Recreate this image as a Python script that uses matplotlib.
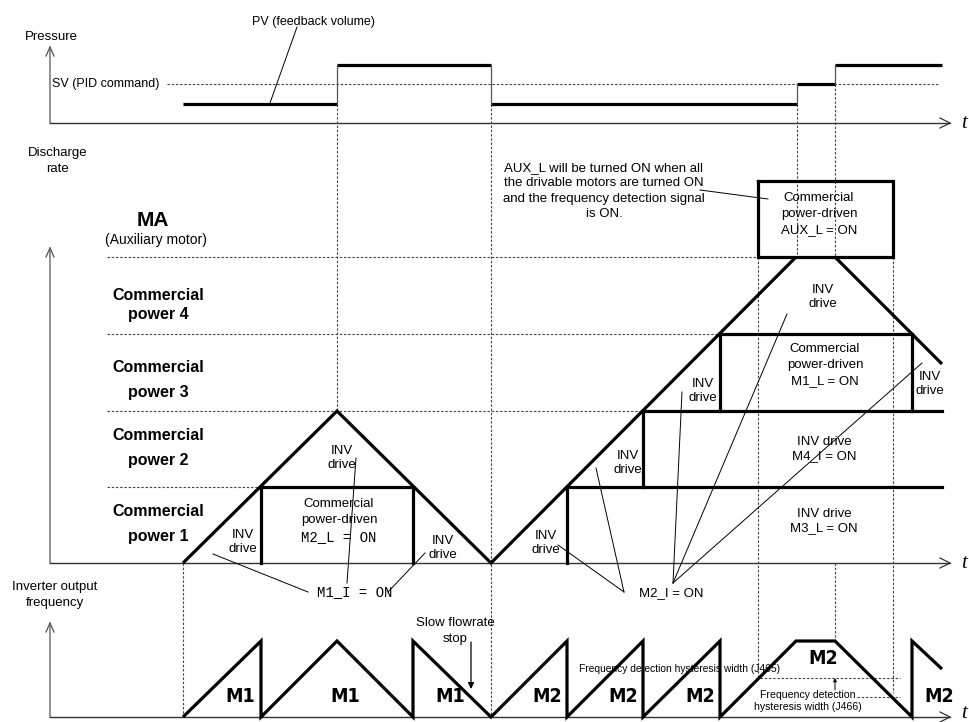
import matplotlib
matplotlib.use('Agg')
import matplotlib.pyplot as plt

plt.rcParams['font.family'] = ['Liberation Sans', 'DejaVu Sans']

# time marks along the x axis (pixel units of the diagram)
t_marks = [183, 261, 337, 413, 491, 567, 643, 720, 796, 835, 912, 942]
# discharge rate levels: 0 (axis) .. 4 (MA)
levels = [563, 487, 411, 334, 257]
# pressure levels
p_low, p_sv, p_high = 104, 84, 65
# inverter output frequency: bottom / top
f_bot, f_top = 717, 641

# PV (feedback) sequence: (start, end, level)
pv_steps = [(183, 337, p_low), (337, 491, p_high), (491, 797, p_low),
            (797, 835, p_sv), (835, 942, p_high)]

# discharge rate outline
discharge_left = [(183, 563), (337, 411), (491, 563), (796, 257)]
discharge_right = [(835, 257), (942, 364)]
# commercial-power steps: vertical (x, y0, y1) and horizontal (y, x0, x1)
step_vert = [(261, 563, 487), (413, 487, 563), (567, 563, 487),
             (643, 487, 411), (720, 411, 334), (912, 334, 411)]
step_horz = [(487, 261, 413), (487, 567, 942), (411, 643, 942), (334, 720, 912)]
aux_box = (758, 181, 893, 257)

# inverter output frequency wave
freq_wave = [(183, 717), (261, 641), (261, 717), (337, 641), (413, 717),
             (413, 641), (491, 717), (567, 641), (567, 717), (643, 641),
             (643, 717), (720, 641), (720, 717), (796, 641), (835, 641),
             (912, 717), (912, 641), (942, 669)]
freq_names = ['M1', 'M1', 'M1', 'M2', 'M2', 'M2', 'M2', 'M2']
freq_name_pos = [(240, 697), (345, 697), (450, 697), (547, 697), (623, 697),
                 (700, 697), (823, 659), (939, 697)]

# guide lines
v_dashed = [(337, 104, 411), (491, 104, 717), (797, 104, 257), (835, 84, 257),
            (835, 563, 641), (758, 257, 678), (893, 257, 693), (183, 563, 717)]
h_dashed = [(84, 167, 938), (257, 107, 758), (334, 107, 720), (411, 107, 643),
            (487, 107, 261), (678, 760, 900), (697, 857, 900)]

leaders = [((297, 27), (270, 103)), ((700, 190), (768, 199)),
           ((213, 554), (308, 592)), ((356, 458), (347, 583)),
           ((425, 553), (388, 592)), ((558, 545), (624, 592)),
           ((596, 468), (624, 592)), ((682, 392), (673, 583)),
           ((787, 314), (673, 583)), ((922, 363), (673, 583))]

inv_drive_pos = [(243, 542), (342, 458), (443, 548), (546, 543),
                 (628, 463), (703, 391), (823, 297), (930, 384)]

commercial_rows = [('Commercial', 296, 'power 4', 315),
                   ('Commercial', 368, 'power 3', 393),
                   ('Commercial', 435, 'power 2', 461),
                   ('Commercial', 512, 'power 1', 537)]

fig = plt.figure(figsize=(9.69, 7.22), dpi=100)
ax = fig.add_axes([0, 0, 1, 1])
ax.set_xlim(0, 969)
ax.set_ylim(722, 0)
ax.axis('off')

BOLD = 2.3
DASH = (0, (2.2, 1.6))

# axes with open arrowheads
for top, bottom in [(47, 123), (248, 563), (623, 717)]:
    ax.plot([50, 50], [top, bottom], color='#808080', lw=1.2)
    ax.plot([46, 50, 54], [top + 9, top, top + 9], color='#555555', lw=0.9)
    ax.plot([50, 950], [bottom, bottom], color='#333333', lw=1.0)
    ax.plot([940, 950, 940], [bottom - 5, bottom, bottom + 5], color='#333333', lw=0.9)
    ax.text(964, min(bottom, 713), 't', fontsize=15, family='Liberation Serif',
            style='italic', ha='center', va='center')

# dashed guides
for x, y0, y1 in v_dashed:
    ax.plot([x, x], [y0, y1], color='#444444', lw=0.8, ls=DASH)
for y, x0, x1 in h_dashed:
    ax.plot([x0, x1], [y, y], color='#444444', lw=0.8, ls=DASH)

# pressure PV
for i, (x0, x1, y) in enumerate(pv_steps):
    ax.plot([x0, x1], [y, y], color='black', lw=BOLD, solid_capstyle='butt')
    if i > 0:
        prev = pv_steps[i - 1][2]
        ax.plot([x0, x0], [prev, y], color='#555555', lw=0.9)

# discharge rate and frequency wave
for pts in (discharge_left, discharge_right, freq_wave):
    xs, ys = zip(*pts)
    ax.plot(xs, ys, color='black', lw=BOLD, solid_joinstyle='miter',
            solid_capstyle='butt')
for x, y0, y1 in step_vert:
    ax.plot([x, x], [y0, y1], color='black', lw=BOLD, solid_capstyle='projecting')
for y, x0, x1 in step_horz:
    ax.plot([x0, x1], [y, y], color='black', lw=BOLD, solid_capstyle='projecting')
bx0, by0, bx1, by1 = aux_box
ax.plot([bx0, bx1, bx1, bx0, bx0], [by0, by0, by1, by1, by0], color='black',
        lw=BOLD, solid_joinstyle='miter')

# leader lines
for (x0, y0), (x1, y1) in leaders:
    ax.plot([x0, x1], [y0, y1], color='black', lw=0.7)

# texts
fs = 9.5
ax.text(25, 37, 'Pressure', fontsize=fs, va='center', ha='left')
ax.text(52, 84, 'SV (PID command)', fontsize=9, va='center', ha='left')
ax.text(313, 22, 'PV (feedback volume)', fontsize=9, va='center', ha='center')
ax.text(58, 161, 'Discharge\nrate', fontsize=fs, va='center', ha='center',
        linespacing=1.4)
ax.text(55, 595, 'Inverter output\nfrequency', fontsize=fs, va='center', ha='center',
        linespacing=1.4)
ax.text(153, 221, 'MA', fontsize=15, weight='bold', va='center', ha='center')
ax.text(156, 240, '(Auxiliary motor)', fontsize=10, va='center', ha='center')
for l1, y1, l2, y2 in commercial_rows:
    ax.text(158, y1, l1, fontsize=11.5, weight='bold', va='center', ha='center')
    ax.text(158, y2, l2, fontsize=11.5, weight='bold', va='center', ha='center')

for x, y in inv_drive_pos:
    ax.text(x, y, 'INV\ndrive', fontsize=9.5, va='center', ha='center',
            linespacing=1.32)

box_fs = 9.5
ax.text(339, 504, 'Commercial', fontsize=box_fs, va='center', ha='center')
ax.text(339, 520, 'power-driven', fontsize=box_fs, va='center', ha='center')
ax.text(339, 537, 'M2_L = ON', fontsize=10, family='Liberation Mono',
        va='center', ha='center')
ax.text(819, 198, 'Commercial', fontsize=box_fs, va='center', ha='center')
ax.text(819, 214, 'power-driven', fontsize=box_fs, va='center', ha='center')
ax.text(819, 230, 'AUX_L = ON', fontsize=box_fs, va='center', ha='center')
ax.text(825, 349, 'Commercial', fontsize=box_fs, va='center', ha='center')
ax.text(825, 365, 'power-driven', fontsize=box_fs, va='center', ha='center')
ax.text(825, 381, 'M1_L = ON', fontsize=box_fs, va='center', ha='center')
ax.text(824, 449, 'INV drive\nM4_I = ON', fontsize=box_fs, va='center', ha='center',
        linespacing=1.25)
ax.text(824, 521, 'INV drive\nM3_L = ON', fontsize=box_fs, va='center', ha='center',
        linespacing=1.25)
ax.text(604, 191, 'AUX_L will be turned ON when all\nthe drivable motors are turned ON\n'
        'and the frequency detection signal\nis ON.', fontsize=9.5, va='center',
        ha='center', linespacing=1.4)

ax.text(355, 592, 'M1_I = ON', fontsize=10, family='Liberation Mono',
        va='center', ha='center')
ax.text(671, 593, 'M2_I = ON', fontsize=9.5, va='center', ha='center')

for name, (x, y) in zip(freq_names, freq_name_pos):
    ax.text(x, y, name, fontsize=14, weight='bold', family='DejaVu Sans',
            stretch='condensed', va='center', ha='center')

ax.text(455, 631, 'Slow flowrate\nstop', fontsize=fs, va='center', ha='center',
        linespacing=1.4)
ax.annotate('', xy=(471, 689), xytext=(471, 642),
            arrowprops=dict(arrowstyle='-|>', color='black', lw=0.9,
                            mutation_scale=9, shrinkA=0, shrinkB=0))
ax.annotate('', xy=(835, 678), xytext=(835, 690),
            arrowprops=dict(arrowstyle='-|>', color='black', lw=0.7,
                            mutation_scale=5, shrinkA=0, shrinkB=0))

ax.text(680, 669, 'Frequency detection hysteresis width (J465)', fontsize=7.4,
        va='center', ha='center')
ax.text(808, 701, 'Frequency detection\nhysteresis width (J466)', fontsize=7.6,
        va='center', ha='center', linespacing=1.35)

fig.savefig('out.png', dpi=100)
